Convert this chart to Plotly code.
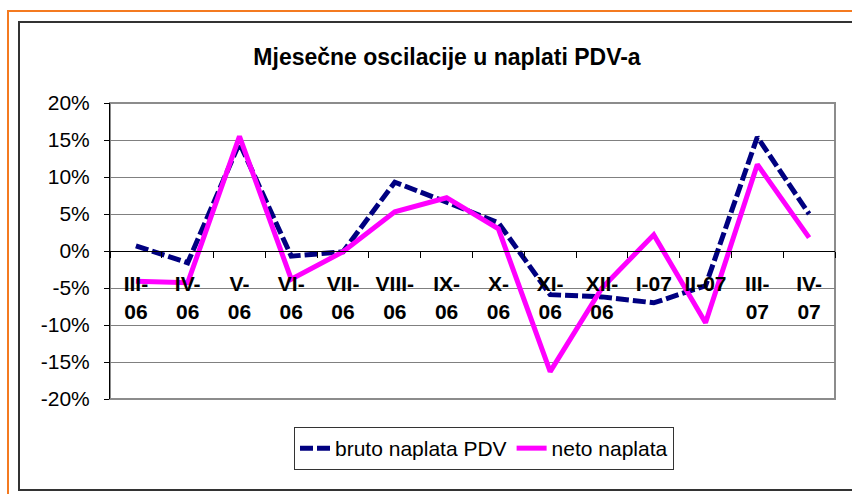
import plotly.graph_objects as go

categories = ["III-<br>06", "IV-<br>06", "V-<br>06", "VI-<br>06", "VII-<br>06", "VIII-<br>06",
              "IX-<br>06", "X-<br>06", "XI-<br>06", "XII-<br>06", "I-07", "II-07",
              "III-<br>07", "IV-<br>07"]
bruto = [0.7, -1.6, 14.6, -0.7, -0.1, 9.3, 6.6, 3.8, -5.9, -6.2, -7.0, -4.7, 15.4, 5.0]
neto = [-4.1, -4.3, 15.5, -3.8, -0.1, 5.3, 7.2, 3.0, -16.3, -5.0, 2.2, -9.7, 11.7, 1.8]
y_ticks = [-20, -15, -10, -5, 0, 5, 10, 15, 20]

FONT = "Arial, Liberation Sans, sans-serif"
W, H = 852, 494
L, R, T, B = 110, 835, 103, 399

def px(x):
    return (x - L) / (R - L)

def py(y):
    return (B - y) / (B - T)

fig = go.Figure()
fig.add_trace(go.Scatter(x=categories, y=bruto, mode="lines", name="bruto naplata PDV",
                         line=dict(color="#000080", width=5, dash="13px,4px")))
fig.add_trace(go.Scatter(x=categories, y=neto, mode="lines", name="neto naplata",
                         line=dict(color="#FF00FF", width=5)))

shapes = [
    dict(type="rect", xref="paper", yref="paper", x0=px(8), x1=px(880), y0=py(11), y1=py(520),
         line=dict(color="#F47A20", width=2), layer="below"),
    dict(type="rect", xref="paper", yref="paper", x0=px(19), x1=px(880), y0=py(22), y1=py(490),
         line=dict(color="#333333", width=2), layer="below"),
    dict(type="rect", xref="paper", yref="paper", x0=0, x1=1, y0=0, y1=1,
         line=dict(color="#8C8C8C", width=2), layer="below"),
]

fig.update_layout(
    width=W, height=H,
    margin=dict(l=L, r=W - R, t=T, b=H - B),
    paper_bgcolor="white", plot_bgcolor="white",
    font=dict(family=FONT, color="black", size=21),
    title=dict(text="<b>Mjesečne oscilacije u naplati PDV-a</b>", xref="container", yref="container",
               x=447 / W, y=1 - 57 / H, xanchor="center", yanchor="middle",
               font=dict(size=23, family=FONT, color="black")),
    shapes=shapes,
    showlegend=True,
    legend=dict(orientation="h", x=px(484), y=py(427), xanchor="center", yanchor="top",
                bordercolor="#333333", borderwidth=1, bgcolor="white",
                font=dict(size=21, family=FONT), tracegroupgap=0),
    xaxis=dict(type="category", range=[-0.5, 13.5], anchor="free", position=0.5, showgrid=False,
               showline=True, linecolor="black", linewidth=1,
               ticks="outside", tickson="boundaries", ticklen=6, tickcolor="black",
               tickfont=dict(size=21, family=FONT, color="black", weight="bold"),
               ticklabelstandoff=14, fixedrange=True),
    yaxis=dict(range=[-20, 20], tickvals=y_ticks, ticktext=[f"{v}%" for v in y_ticks],
               showgrid=True, gridcolor="#808080", gridwidth=1, zeroline=False,
               showline=True, linecolor="black", linewidth=1,
               ticks="outside", ticklen=5, tickcolor="black",
               tickfont=dict(size=21, family=FONT, color="black"),
               ticklabelstandoff=10, fixedrange=True),
)

fig.write_html("out.html", config={"displayModeBar": False},
               post_script="document.body.style.margin='0';")
